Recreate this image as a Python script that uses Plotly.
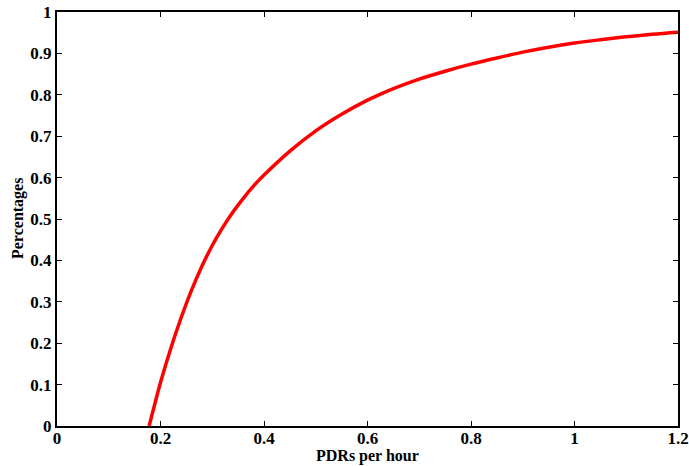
import plotly.graph_objects as go

pdrs_per_hour = [0.178, 0.19, 0.20, 0.22, 0.24, 0.26, 0.28, 0.30, 0.32, 0.34, 0.36, 0.38,
                 0.40, 0.45, 0.50, 0.55, 0.60, 0.65, 0.70, 0.75, 0.80, 0.85, 0.90,
                 0.95, 1.00, 1.05, 1.10, 1.15, 1.20]
percentages = [0.0, 0.058, 0.105, 0.188, 0.262, 0.328, 0.386, 0.436, 0.479, 0.517, 0.550, 0.580,
               0.606, 0.664, 0.713, 0.753, 0.787, 0.815, 0.838, 0.857, 0.874, 0.889, 0.903,
               0.915, 0.925, 0.933, 0.940, 0.946, 0.951]

x_ticks = [0, 0.2, 0.4, 0.6, 0.8, 1, 1.2]
y_ticks = [0, 0.1, 0.2, 0.3, 0.4, 0.5, 0.6, 0.7, 0.8, 0.9, 1]

fig = go.Figure()
fig.add_trace(go.Scatter(
    x=pdrs_per_hour, y=percentages, mode="lines",
    line=dict(color="#ff0000", width=3.5, shape="spline", smoothing=1.0),
    showlegend=False,
))

font_family = "Liberation Serif, Times New Roman, serif"
axis_common = dict(
    showline=True, linecolor="black", linewidth=2, mirror="ticks",
    ticks="inside", ticklen=5, tickwidth=1, tickcolor="black",
    showgrid=False, zeroline=False, automargin=False,
    tickfont=dict(family=font_family, size=17, color="black", weight="bold"),
)

fig.update_xaxes(range=[0, 1.2], tickvals=x_ticks,
                 ticktext=[str(t) for t in x_ticks], ticklabelstandoff=-4,
                 **axis_common)
fig.update_yaxes(range=[0, 1], tickvals=y_ticks,
                 ticktext=[("%g" % t) for t in y_ticks], **axis_common)

title_font = dict(family=font_family, size=16, color="black", weight="bold")
fig.add_annotation(text="PDRs per hour", xref="paper", yref="paper", x=0.5, y=0,
                   xanchor="center", yanchor="middle", yshift=-30, showarrow=False,
                   font=title_font)
fig.add_annotation(text="Percentages", xref="paper", yref="paper", x=0, y=0.5,
                   xanchor="center", yanchor="middle", xshift=-39, textangle=-90,
                   showarrow=False, font=title_font)

fig.update_layout(
    width=689, height=466,
    margin=dict(l=57, r=11, t=12, b=40),
    plot_bgcolor="white", paper_bgcolor="white",
)

fig.write_html("out.html")
